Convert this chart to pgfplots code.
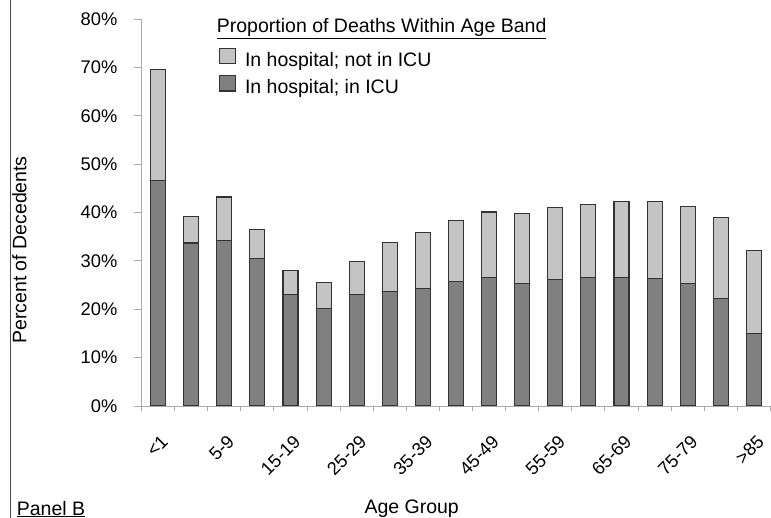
\documentclass[border=0pt]{standalone}
\usepackage{fontspec}
\setmainfont{Liberation Sans}
\usepackage{pgfplots}
\pgfplotsset{compat=1.18}

\definecolor{icu}{HTML}{808080}
\definecolor{nonicu}{HTML}{C4C4C4}
\definecolor{edge}{HTML}{333333}
\definecolor{axisgray}{HTML}{AAAAAA}
\newcommand{\lbl}{\fontsize{19.5bp}{23bp}\selectfont}
\newcommand{\tck}{\fontsize{18.3bp}{22bp}\selectfont}

\begin{document}
\begin{tikzpicture}
\useasboundingbox (0,0) rectangle (771bp,518bp);
\draw[line width=1.2bp, black!70] (10.5bp,0) -- (10.5bp,518bp);
\begin{axis}[
  at={(141.5bp,112bp)}, anchor=south west,
  scale only axis, width=629bp, height=387bp,
  ybar stacked, bar width=15bp,
  xmin=-0.5, xmax=18.5, ymin=0, ymax=80,
  axis x line*=bottom, axis y line*=left,
  axis line style={axisgray, line width=1bp, -},
  xtick={0,2,...,18},
  xticklabels={<1,5-9,15-19,25-29,35-39,45-49,55-59,65-69,75-79,>85},
  minor xtick={-0.5,0.5,...,18.5},
  ytick={0,10,...,80},
  yticklabels={0\%,10\%,20\%,30\%,40\%,50\%,60\%,70\%,80\%},
  tick align=outside,
  major tick length=8bp, minor tick length=5bp,
  tick style={axisgray, line width=1bp},
  major x tick style={draw=none},
  ticklabel style={font=\tck},
  yticklabel style={inner sep=0pt, xshift=-16bp},
  % shifts act in the rotated frame
  xticklabel style={rotate=45, anchor=east, inner sep=0pt, xshift=-12.65bp, yshift=-22.1bp},
  legend style={at={(0.118,0.932)}, anchor=north west, draw=none, fill=none,
    font=\lbl, row sep=5.5bp, column sep=7bp, cells={anchor=west}},
  reverse legend,
  legend image code/.code={\draw[#1] (0bp,-3.7bp) rectangle (16bp,11.7bp);},
]
% in hospital, in ICU
\addplot[fill=icu, draw=edge, line width=1.1bp] coordinates {
  (0,46.6) (1,33.7) (2,34.3) (3,30.5) (4,23.1) (5,20.2) (6,23.1) (7,23.6) (8,24.3) (9,25.8)
  (10,26.6) (11,25.4) (12,26.2) (13,26.5) (14,26.6) (15,26.3) (16,25.3) (17,22.2) (18,14.9)};
% in hospital, not in ICU
\addplot[fill=nonicu, draw=edge, line width=1.1bp] coordinates {
  (0,23.0) (1,5.5) (2,8.9) (3,6.0) (4,5.0) (5,5.4) (6,6.7) (7,10.2) (8,11.6) (9,12.6)
  (10,13.5) (11,14.4) (12,14.8) (13,15.2) (14,15.6) (15,16.0) (16,16.0) (17,16.7) (18,17.2)};
\legend{In hospital; in ICU, In hospital; not in ICU}
\end{axis}
\node[anchor=base west, font=\lbl, inner sep=0pt] at (216.7bp,485.3bp) {\underline{Proportion of Deaths Within Age Band}};
\node[rotate=90, font=\lbl] at (19.5bp,268bp) {Percent of Decedents};
\node[anchor=base, font=\lbl, inner sep=0pt] at (411.7bp,4.7bp) {Age Group};
\node[anchor=base west, font=\lbl, inner sep=0pt] at (16.7bp,3bp) {\underline{Panel B}};
\end{tikzpicture}
\end{document}
